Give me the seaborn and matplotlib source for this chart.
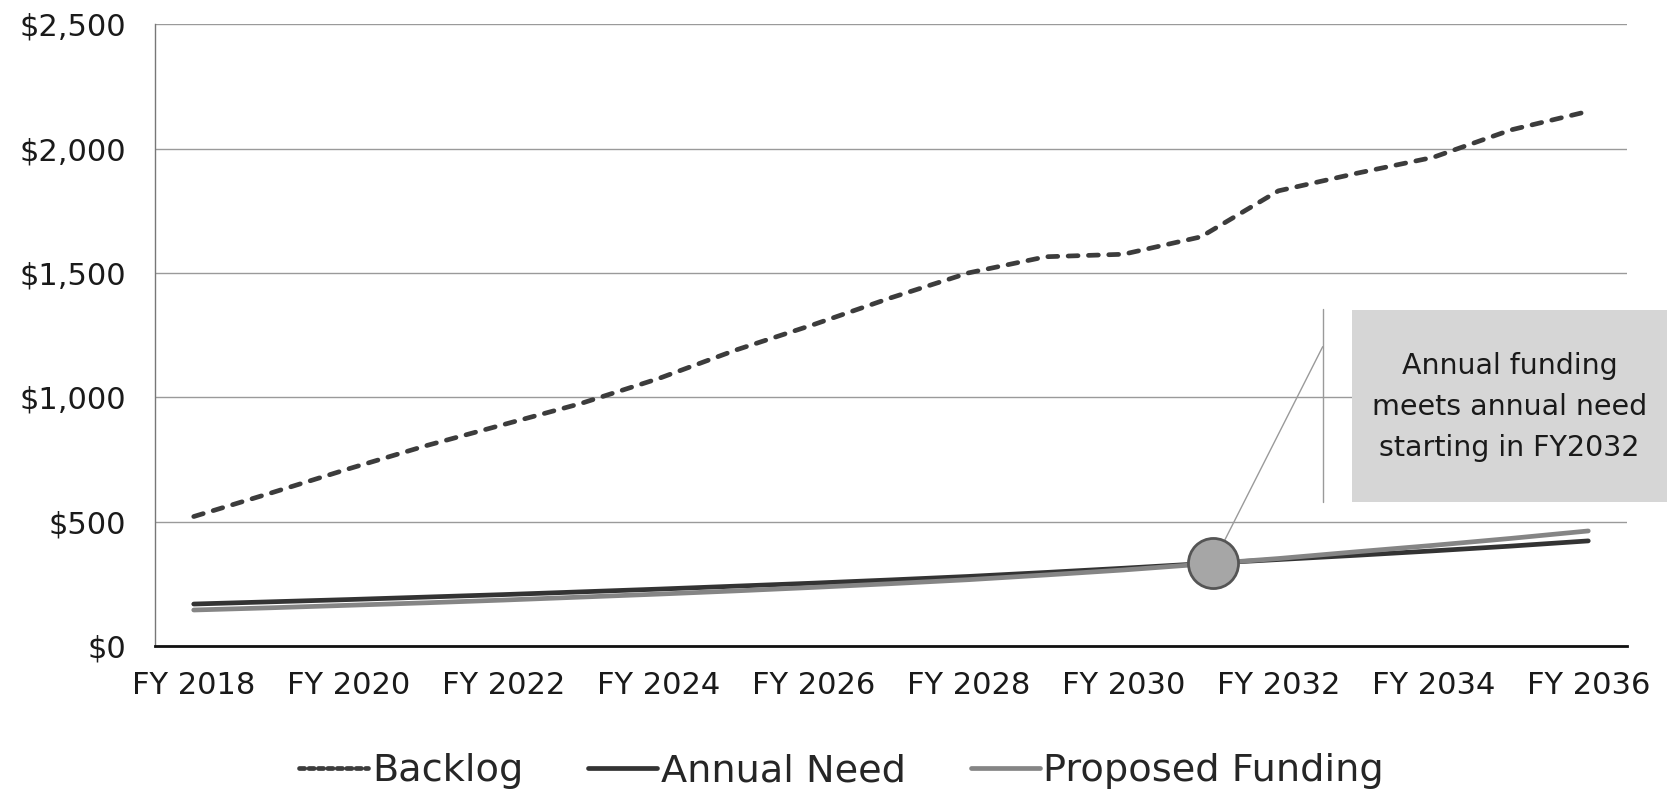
import numpy as np
import pandas as pd
import matplotlib
matplotlib.use("Agg")
import matplotlib.pyplot as plt
import seaborn as sns
from matplotlib.lines import Line2D
from matplotlib.patches import Rectangle


# Chart data ($ millions)
years = list(range(2018, 2037))
backlog = [520, 615, 712, 805, 890, 975, 1075, 1190, 1292, 1400,
           1500, 1565, 1575, 1645, 1830, 1900, 1965, 2075, 2150]
annual_need = [168, 177, 186, 196, 206, 217, 228, 240, 252, 265,
               279, 295, 312, 330, 347, 364, 382, 401, 422]
proposed_funding = [144, 153, 163, 173, 184, 196, 208, 221, 235, 250,
                    266, 285, 305, 328, 351, 378, 404, 432, 462]
series_names = ["Backlog", "Annual Need", "Proposed Funding"]
tick_years = list(range(2018, 2037, 2))
y_ticks = [0, 500, 1000, 1500, 2000, 2500]

# crossover point highlighted by the callout
callout_year = 2031.16
callout_value = 334
callout_text = "Annual funding\nmeets annual need\nstarting in FY2032"


def build_frame():
    rows = []
    for name, values in zip(series_names, [backlog, annual_need, proposed_funding]):
        for yr, v in zip(years, values):
            rows.append({"Year": yr, "Value": v, "Series": name})
    return pd.DataFrame(rows)


def main():
    df = build_frame()

    sns.set_style("white")
    plt.rcParams["font.family"] = ["DejaVu Sans"]

    W, H = 1667, 794
    fig = plt.figure(figsize=(W / 100, H / 100), dpi=100)
    ax = fig.add_axes([155 / W, 1 - 645.8 / H, (1627 - 155) / W, (645.8 - 24.3) / H])

    palette = {"Backlog": "#3c3c3c", "Annual Need": "#333333", "Proposed Funding": "#858585"}
    dashes = {"Backlog": (2.1, 2.2), "Annual Need": "", "Proposed Funding": ""}

    sns.lineplot(data=df, x="Year", y="Value", hue="Series", style="Series",
                 palette=palette, dashes=dashes, linewidth=3.4, legend=False,
                 ax=ax, zorder=3)
    for line in ax.get_lines():
        line.set_dash_capstyle("round")
        line.set_solid_capstyle("round")

    # highlight circle
    ax.scatter([callout_year], [callout_value], s=1300, color="#a6a6a6",
               edgecolor="#555555", linewidth=2, zorder=5)

    ax.set_xlim(2017.5, 2036.5)
    ax.set_ylim(0, 2500)
    ax.set_xticks(tick_years)
    ax.set_xticklabels([f"FY {y}" for y in tick_years])
    ax.set_yticks(y_ticks)
    ax.set_yticklabels([f"${v:,}" for v in y_ticks])
    ax.set_xlabel("")
    ax.set_ylabel("")
    ax.tick_params(axis="x", labelsize=22, pad=18, length=0, colors="#1a1a1a")
    ax.tick_params(axis="y", labelsize=22, pad=21, length=0, colors="#1a1a1a")
    ax.yaxis.grid(True, color="#9a9a9a", linewidth=1, zorder=0)
    ax.set_axisbelow(True)

    for side in ["top", "right"]:
        ax.spines[side].set_visible(False)
    ax.spines["left"].set_color("#777777")
    ax.spines["left"].set_linewidth(1)
    ax.spines["bottom"].set_color("#111111")
    ax.spines["bottom"].set_linewidth(2)

    # callout box (figure pixels -> fractions)
    bx0, bx1, by0, by1 = 1352, 1667, 310, 502
    fig.add_artist(Rectangle((bx0 / W, 1 - by1 / H), (bx1 - bx0) / W, (by1 - by0) / H,
                             transform=fig.transFigure, facecolor="#d6d6d6",
                             edgecolor="none", zorder=4))
    fig.text((bx0 + bx1) / 2 / W, 1 - 407 / H, callout_text, ha="center", va="center",
             fontsize=20.5, linespacing=1.6, color="#1a1a1a", zorder=5)
    vx = 1322.7
    fig.add_artist(Line2D([vx / W, vx / W], [1 - 309 / H, 1 - 502 / H],
                          transform=fig.transFigure, color="#9a9a9a", linewidth=1, zorder=4))
    ax.annotate("", xy=(callout_year, callout_value), xycoords="data",
                xytext=(vx / W, 1 - 346.7 / H), textcoords="figure fraction",
                arrowprops=dict(arrowstyle="-", color="#9a9a9a", lw=1,
                                shrinkA=0, shrinkB=0), zorder=4)

    # legend
    handles = [
        Line2D([], [], color=palette["Backlog"], linewidth=3.4, dashes=(1.1, 0.9),
               dash_capstyle="round"),
        Line2D([], [], color=palette["Annual Need"], linewidth=3.4),
        Line2D([], [], color=palette["Proposed Funding"], linewidth=3.4),
    ]
    fig.legend(handles, series_names, loc="center", bbox_to_anchor=(0.505, 1 - 771 / H),
               ncol=3, frameon=False, fontsize=27.5, handlelength=1.8,
               handletextpad=0.1, columnspacing=1.7)

    fig.savefig("out.png", dpi=100)


if __name__ == "__main__":
    main()
